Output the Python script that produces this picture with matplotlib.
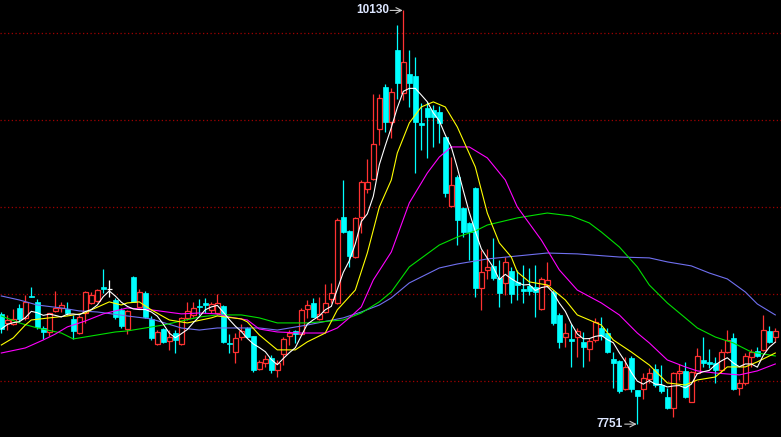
import numpy as np
import pandas as pd
import matplotlib
matplotlib.use('Agg')
import matplotlib.pyplot as plt

# daily candles (oldest -> newest)
opens = [8385, 8333, 8327, 8419, 8362, 8488, 8454, 8304, 8281, 8402,
         8419, 8413, 8356, 8275, 8390, 8448, 8459, 8540, 8528, 8465,
         8408, 8298, 8597, 8425, 8505, 8356, 8212, 8298, 8229, 8275,
         8212, 8362, 8379, 8431, 8448, 8408, 8390, 8431, 8218, 8166,
         8252, 8304, 8258, 8068, 8103, 8131, 8063, 8155, 8258, 8287,
         8269, 8413, 8448, 8356, 8396, 8471, 8448, 8942, 8862, 8712,
         8942, 9103, 9161, 9448, 9690, 9488, 9903, 9655, 9765, 9753,
         9483, 9569, 9557, 9546, 9402, 9006, 9172, 8994, 8908, 9109,
         8534, 8638, 8661, 8592, 8563, 8632, 8569, 8528, 8546, 8540,
         8413, 8551, 8511, 8379, 8252, 8241, 8252, 8224, 8183, 8235,
         8304, 8275, 8126, 8114, 7953, 8131, 7948, 7953, 8011, 8068,
         7976, 7907, 7844, 8045, 8057, 7878, 8045, 8120, 8109, 8103,
         8063, 8166, 8247, 7959, 7988, 8137, 8172, 8178, 8287, 8252]
highs = [8396, 8379, 8413, 8442, 8494, 8540, 8471, 8316, 8390, 8517,
         8454, 8454, 8379, 8379, 8517, 8511, 8528, 8643, 8580, 8477,
         8419, 8408, 8603, 8528, 8517, 8373, 8292, 8304, 8292, 8292,
         8367, 8454, 8454, 8471, 8477, 8454, 8500, 8436, 8269, 8275,
         8327, 8310, 8258, 8120, 8149, 8149, 8120, 8252, 8292, 8292,
         8419, 8465, 8477, 8482, 8557, 8563, 8937, 9155, 8868, 8942,
         9155, 9276, 9650, 9650, 9707, 9684, 10046, 10130, 9903, 9862,
         9598, 9604, 9586, 9581, 9402, 9287, 9184, 9000, 8914, 9115,
         8752, 8758, 8822, 8695, 8712, 8655, 8638, 8666, 8649, 8666,
         8597, 8684, 8522, 8390, 8333, 8327, 8304, 8281, 8247, 8362,
         8367, 8304, 8166, 8120, 8137, 8143, 7948, 8045, 8074, 8097,
         8091, 7959, 8051, 8097, 8109, 8057, 8189, 8252, 8183, 8137,
         8183, 8292, 8275, 8011, 8160, 8183, 8195, 8379, 8316, 8304]
lows = [8275, 8292, 8321, 8339, 8350, 8482, 8298, 8241, 8258, 8396,
        8396, 8379, 8241, 8269, 8333, 8442, 8454, 8505, 8482, 8356,
        8304, 8269, 8454, 8419, 8362, 8235, 8206, 8218, 8178, 8160,
        8206, 8350, 8367, 8379, 8390, 8390, 8379, 8218, 8160, 8103,
        8235, 8247, 8051, 8063, 8080, 8045, 8022, 8091, 8206, 8218,
        8264, 8362, 8367, 8350, 8390, 8448, 8442, 8850, 8655, 8707,
        8850, 9080, 9155, 9356, 9431, 9397, 9621, 9615, 9575, 9195,
        9327, 9282, 9345, 9368, 9057, 9000, 8781, 8827, 8695, 8482,
        8408, 8586, 8580, 8425, 8494, 8448, 8465, 8448, 8494, 8367,
        8408, 8540, 8321, 8189, 8195, 8080, 8137, 8080, 8114, 8224,
        8235, 8160, 7959, 7930, 7948, 7936, 7751, 7896, 7988, 7965,
        7930, 7838, 7792, 8005, 7902, 7878, 8045, 8080, 8074, 7988,
        8045, 8160, 7948, 7919, 7976, 8080, 8137, 8172, 8218, 8224]
closes = [8298, 8350, 8356, 8356, 8454, 8482, 8310, 8281, 8390, 8419,
          8436, 8390, 8287, 8367, 8511, 8494, 8522, 8528, 8528, 8367,
          8316, 8402, 8454, 8511, 8367, 8247, 8281, 8224, 8252, 8235,
          8362, 8402, 8419, 8425, 8436, 8442, 8448, 8224, 8212, 8247,
          8287, 8252, 8063, 8109, 8126, 8063, 8103, 8241, 8275, 8269,
          8408, 8436, 8367, 8385, 8448, 8505, 8925, 8856, 8718, 8937,
          9144, 9144, 9362, 9627, 9488, 9661, 9713, 9834, 9713, 9488,
          9471, 9517, 9517, 9483, 9080, 9126, 8925, 8856, 8856, 8534,
          8626, 8655, 8592, 8505, 8684, 8500, 8551, 8517, 8517, 8511,
          8586, 8580, 8333, 8224, 8275, 8229, 8287, 8195, 8229, 8339,
          8258, 8166, 8103, 7942, 8080, 7953, 7913, 8017, 8045, 7976,
          7942, 7844, 8045, 8057, 7907, 8051, 8143, 8103, 8097, 8063,
          8166, 8235, 7953, 7988, 8143, 8166, 8143, 8292, 8224, 8287]

# moving averages at sample candles
ma10_idx = [0, 2, 4, 5, 8, 11, 14, 15, 18, 20, 21, 23, 25, 28, 31, 35, 36, 40, 41, 43,
            46, 49, 51, 54, 56, 59, 61, 63, 65, 66, 68, 70, 72, 74, 76, 79, 81, 83, 85, 86,
            88, 91, 94, 96, 100, 102, 105, 108, 111, 114, 116, 119, 121, 124, 126, 129]
ma10_val = [8206, 8247, 8321, 8350, 8362, 8373, 8390, 8408, 8454, 8436, 8448, 8454, 8408, 8350, 8333, 8362, 8373, 8356, 8339, 8264,
            8178, 8178, 8224, 8275, 8408, 8522, 8735, 8999, 9155, 9310, 9483, 9575, 9604, 9575, 9460, 9230, 8965, 8793, 8712, 8626,
            8569, 8551, 8465, 8379, 8321, 8235, 8166, 8091, 7988, 7976, 8005, 8022, 8080, 8080, 8109, 8160]

ma20_idx = [0, 4, 7, 9, 11, 14, 17, 19, 21, 25, 30, 33, 36, 38, 41, 43, 46, 50, 54, 56,
            58, 60, 62, 65, 68, 71, 73, 75, 78, 81, 84, 86, 90, 93, 96, 100, 103, 106, 108, 111,
            114, 116, 119, 123, 126, 129]
ma20_val = [8160, 8189, 8235, 8269, 8310, 8344, 8385, 8402, 8419, 8408, 8385, 8390, 8385, 8367, 8350, 8298, 8281, 8275, 8275, 8304,
            8362, 8425, 8580, 8741, 9023, 9195, 9287, 9345, 9345, 9282, 9155, 9000, 8810, 8638, 8522, 8448, 8379, 8275, 8218, 8120,
            8080, 8057, 8045, 8034, 8057, 8097]

ma30_idx = [0, 3, 6, 10, 12, 15, 19, 21, 27, 33, 36, 40, 43, 46, 51, 57, 60, 63, 65, 68,
            73, 76, 79, 81, 86, 91, 95, 98, 100, 103, 106, 108, 111, 114, 116, 119, 122, 125, 129]
ma30_val = [8373, 8333, 8304, 8275, 8241, 8258, 8281, 8287, 8321, 8367, 8379, 8379, 8362, 8333, 8333, 8350, 8390, 8454, 8511, 8655,
            8781, 8827, 8862, 8896, 8937, 8965, 8948, 8908, 8856, 8770, 8655, 8551, 8448, 8362, 8304, 8252, 8218, 8166, 8143]

ma60_idx = [0, 3, 6, 10, 13, 16, 21, 25, 30, 33, 36, 43, 46, 51, 57, 60, 63, 65, 68, 73,
            76, 79, 81, 86, 91, 96, 103, 108, 111, 115, 118, 121, 124, 126, 129]
ma60_val = [8488, 8465, 8436, 8419, 8402, 8396, 8373, 8356, 8304, 8292, 8304, 8304, 8292, 8321, 8362, 8396, 8436, 8477, 8563, 8649,
            8672, 8689, 8701, 8718, 8735, 8730, 8712, 8707, 8684, 8661, 8620, 8586, 8511, 8442, 8379]

grid_levels = [10000, 9500, 9000, 8500, 8000]

df = pd.DataFrame({'open': opens, 'high': highs, 'low': lows, 'close': closes})
df['ma5'] = df['close'].rolling(5, min_periods=1).mean()
x = np.arange(len(df))

UP = '#ff3232'
DOWN = '#00ffff'
W = 0.75

fig = plt.figure(figsize=(7.81, 4.37), dpi=100, facecolor='black')
ax = fig.add_axes([0, 0, 1, 1], facecolor='black')

for lv in grid_levels:
    ax.axhline(lv, color='#a00000', lw=0.9, ls=(0, (1, 2)), zorder=0)

up = df['close'] > df['open']
dn = df['close'] < df['open']
flat = df['close'] == df['open']

# wicks
ax.vlines(x[up], df['low'][up], df['high'][up], color=UP, lw=0.9, zorder=1)
ax.vlines(x[dn], df['low'][dn], df['high'][dn], color=DOWN, lw=0.9, zorder=1)
ax.vlines(x[flat], df['low'][flat], df['high'][flat], color='white', lw=0.9, zorder=1)

# bodies
ax.bar(x[up], (df['close'] - df['open'])[up], bottom=df['open'][up], width=W,
       facecolor='black', edgecolor=UP, lw=0.9, zorder=2)
ax.bar(x[dn], (df['open'] - df['close'])[dn], bottom=df['close'][dn], width=W,
       facecolor=DOWN, edgecolor=DOWN, lw=0.5, zorder=2)
ax.hlines(df['close'][flat], x[flat] - W / 2, x[flat] + W / 2, color='white', lw=0.9, zorder=2)

# moving averages
ax.plot(ma60_idx, ma60_val, color='#7070f0', lw=0.8, zorder=3)
ax.plot(ma30_idx, ma30_val, color='#00e000', lw=0.8, zorder=3)
ax.plot(ma20_idx, ma20_val, color='#ff00ff', lw=0.8, zorder=3)
ax.plot(ma10_idx, ma10_val, color='#ffff00', lw=0.8, zorder=3)
ax.plot(x, df['ma5'], color='white', lw=0.8, zorder=3)

# high / low markers
hi_i = int(df['high'].idxmax())
lo_i = int(df['low'].idxmin())
txt = dict(color='#dde6ff', fontsize=8.5, fontweight='bold', va='center', ha='right',
           family='Liberation Sans')
ax.text(hi_i - 2.35, df['high'][hi_i], f"{df['high'][hi_i]:.0f}", **txt)
ax.annotate('', xy=(hi_i - 0.1, df['high'][hi_i]), xytext=(hi_i - 2.2, df['high'][hi_i]),
            arrowprops=dict(arrowstyle='->', color='#c8c8c8', lw=0.8, shrinkA=0, shrinkB=0))
ax.text(lo_i - 2.5, df['low'][lo_i], f"{df['low'][lo_i]:.0f}", **txt)
ax.annotate('', xy=(lo_i - 0.1, df['low'][lo_i]), xytext=(lo_i - 2.1, df['low'][lo_i]),
            arrowprops=dict(arrowstyle='->', color='#c8c8c8', lw=0.8, shrinkA=0, shrinkB=0))

ax.set_xlim(-0.217, -0.217 + 781 / 6)
ax.set_ylim(7677, 10190)
ax.axis('off')

fig.savefig('out.png', dpi=100, facecolor='black')
